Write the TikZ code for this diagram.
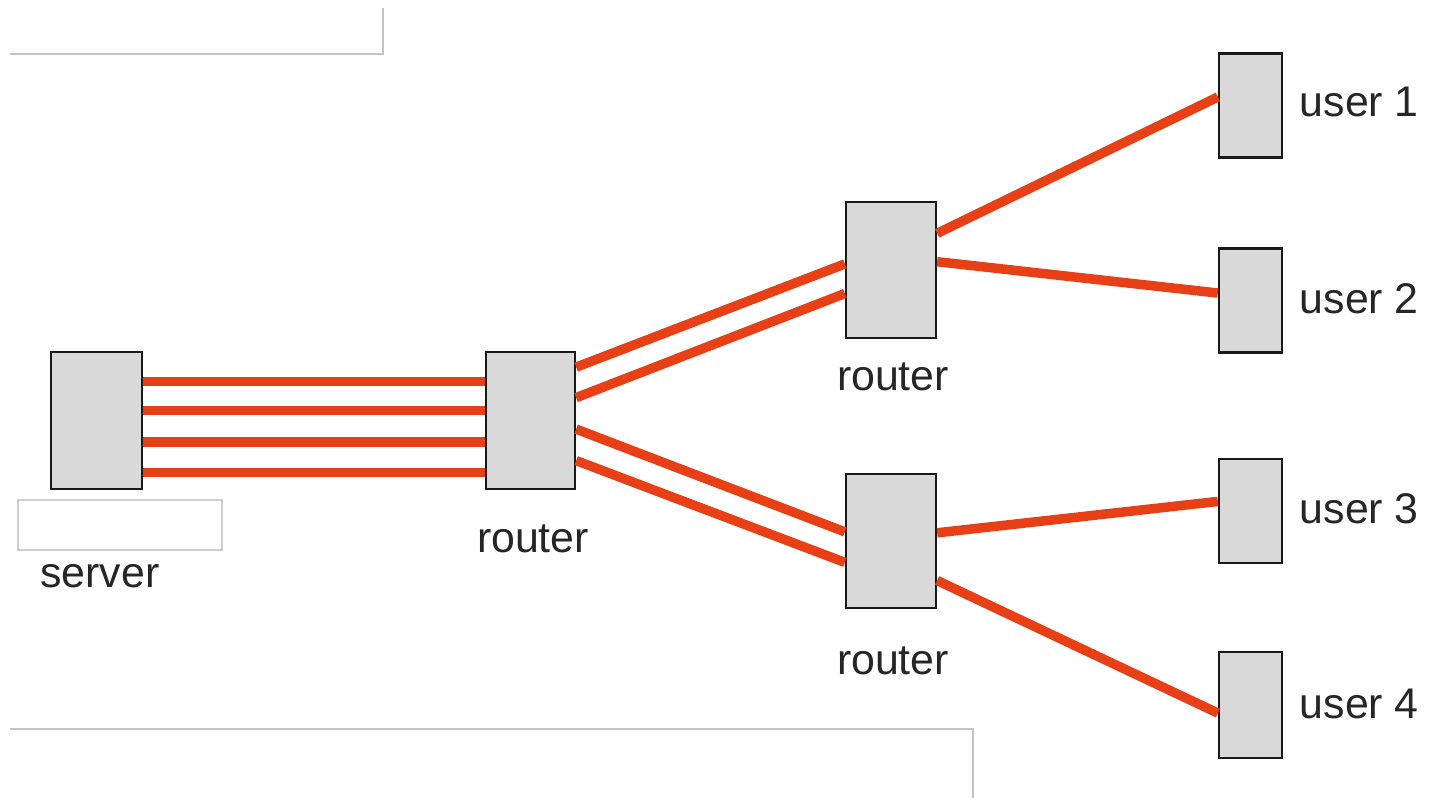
\documentclass[tikz,border=0pt]{standalone}
\usepackage{fontspec}
\setmainfont{Liberation Sans}
\usetikzlibrary{positioning,calc}

\definecolor{linkred}{RGB}{232,64,22}
\definecolor{boxgray}{RGB}{217,217,217}
\definecolor{framegray}{RGB}{196,196,196}

\begin{document}
\begin{tikzpicture}
[
	box/.style={rectangle,draw=black!90,fill=boxgray,line width=0.65pt,inner sep=0pt},
	hostbox/.style={box,minimum width=0.90cm,minimum height=1.37cm},
	userbox/.style={box,minimum width=0.63cm,minimum height=1.04cm},
	link/.style={draw=linkred,line width=0.095cm},
	lbl/.style={inner sep=0pt,font=\fontsize{12.2}{14}\selectfont,text=black!85},
	frame/.style={draw=framegray,line width=0.7pt},
]
	\useasboundingbox (0,0) rectangle (14.29,-7.98);

	% empty frames
	\draw[frame] (0.10,-0.54) -- (3.83,-0.54) -- (3.83,-0.08);
	\draw[frame] (0.10,-7.29) -- (9.73,-7.29) -- (9.73,-7.98);
	\draw[draw=framegray!80,line width=0.5pt] (0.18,-5.00) rectangle (2.22,-5.50);

	% hosts
	\node[hostbox,minimum width=0.91cm] (srv) at (0.965,-4.205) {};
	\node[hostbox,minimum width=0.89cm] (rtA) at (5.305,-4.205) {};
	\node[hostbox,minimum height=1.36cm] (rtB) at (8.91,-2.70) {};
	\node[hostbox,minimum height=1.34cm] (rtC) at (8.91,-5.41) {};
	\node[userbox] (u1) at (12.505,-1.055) {};
	\node[userbox] (u2) at (12.505,-3.005) {};
	\node[userbox] (u3) at (12.505,-5.11) {};
	\node[userbox,minimum height=1.06cm] (u4) at (12.505,-7.05) {};

	% labels
	\node[lbl] (srvlbl) at (1.00,-5.76) {server};
	\node[lbl] (rtAlbl) at (5.33,-5.39) {router};
	\node[lbl] (rtBlbl) at (8.93,-3.77) {router};
	\node[lbl] (rtClbl) at (8.93,-6.61) {router};
	\foreach \i/\y in {1/1.02,2/2.99,3/5.09,4/7.04}
		\node[lbl,anchor=west] (u\i lbl) at (12.99,-\y) {user \i};

	% server to router
	\foreach \f in {0.22,0.43,0.655,0.875}
		\draw[link] ($(srv.north east)!\f!(srv.south east)$) -- ($(rtA.north west)!\f!(rtA.south west)$);

	% router to routers
	\draw[link] ($(rtA.north east)!0.117!(rtA.south east)$) -- ($(rtB.north west)!0.456!(rtB.south west)$);
	\draw[link] ($(rtA.north east)!0.336!(rtA.south east)$) -- ($(rtB.north west)!0.67!(rtB.south west)$);
	\draw[link] ($(rtA.north east)!0.562!(rtA.south east)$) -- ($(rtC.north west)!0.433!(rtC.south west)$);
	\draw[link] ($(rtA.north east)!0.788!(rtA.south east)$) -- ($(rtC.north west)!0.657!(rtC.south west)$);

	% routers to users
	\draw[link] ($(rtB.north east)!0.235!(rtB.south east)$) -- ($(u1.north west)!0.42!(u1.south west)$);
	\draw[link] ($(rtB.north east)!0.44!(rtB.south east)$) -- ($(u2.north west)!0.43!(u2.south west)$);
	\draw[link] ($(rtC.north east)!0.44!(rtC.south east)$) -- ($(u3.north west)!0.41!(u3.south west)$);
	\draw[link] ($(rtC.north east)!0.79!(rtC.south east)$) -- ($(u4.north west)!0.575!(u4.south west)$);
\end{tikzpicture}
\end{document}
